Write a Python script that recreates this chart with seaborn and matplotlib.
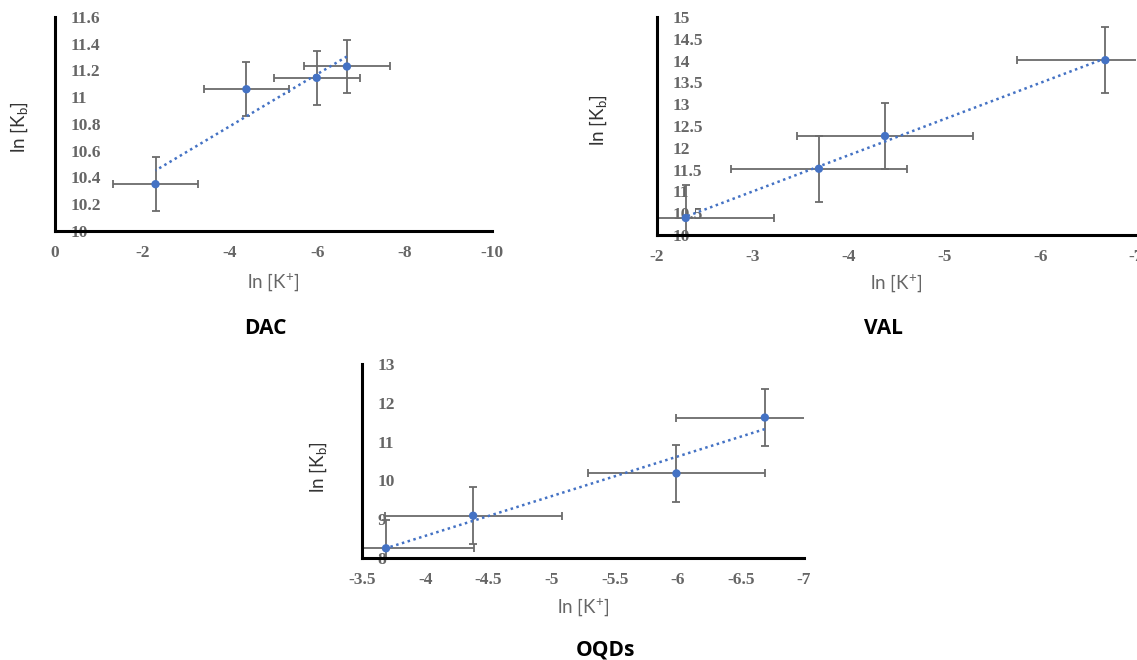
import numpy as np
import pandas as pd
import matplotlib
matplotlib.use("Agg")
import matplotlib.pyplot as plt
import seaborn as sns

# ---------------- data ----------------
dac_x = [-2.30, -4.38, -5.99, -6.68]
dac_y = [10.35, 11.06, 11.145, 11.23]
dac_xerr = [0.98, 0.98, 0.98, 0.98]
dac_yerr = [0.20, 0.20, 0.20, 0.20]

val_x = [-2.30, -3.69, -4.38, -6.68]
val_y = [10.39, 11.52, 12.27, 14.01]
val_xerr = [0.92, 0.92, 0.92, 0.92]
val_yerr = [0.76, 0.76, 0.76, 0.76]

oqd_x = [-3.69, -4.38, -5.99, -6.69]
oqd_y = [8.25, 9.09, 10.18, 11.62]
oqd_xerr = [0.70, 0.70, 0.70, 0.70]
oqd_yerr = [0.73, 0.73, 0.73, 0.73]

dac_xticks = [0, -2, -4, -6, -8, -10]
dac_xticklabels = ["0", "-2", "-4", "-6", "-8", "-10"]
dac_yticks = [10, 10.2, 10.4, 10.6, 10.8, 11, 11.2, 11.4, 11.6]
dac_yticklabels = ["10", "10.2", "10.4", "10.6", "10.8", "11", "11.2", "11.4", "11.6"]

val_xticks = [-2, -3, -4, -5, -6, -7]
val_xticklabels = ["-2", "-3", "-4", "-5", "-6", "-7"]
val_yticks = [10, 10.5, 11, 11.5, 12, 12.5, 13, 13.5, 14, 14.5, 15]
val_yticklabels = ["10", "10.5", "11", "11.5", "12", "12.5", "13", "13.5", "14", "14.5", "15"]

oqd_xticks = [-3.5, -4, -4.5, -5, -5.5, -6, -6.5, -7]
oqd_xticklabels = ["-3.5", "-4", "-4.5", "-5", "-5.5", "-6", "-6.5", "-7"]
oqd_yticks = [8, 9, 10, 11, 12, 13]
oqd_yticklabels = ["8", "9", "10", "11", "12", "13"]

panel_titles = ["DAC", "VAL", "OQDs"]
xlabel_text = "ln [K$^{+}$]"
ylabel_text = "ln [K$_{\\mathrm{b}}$]"

# ---------------- style ----------------
sns.set_theme(style="white")
plt.rcParams["font.family"] = ["Lato", "DejaVu Sans"]
plt.rcParams["mathtext.fontset"] = "custom"
plt.rcParams["mathtext.rm"] = "Lato"
plt.rcParams["mathtext.it"] = "Lato:italic"
plt.rcParams["mathtext.bf"] = "Lato:bold"

BLUE = "#4472C4"
ERR = "#6b6b6b"
TICK = "#666666"

fig = plt.figure(figsize=(11.37, 6.6), dpi=100)

W, H = 1137.0, 660.0


def make_ax(left, right, top, bottom):
    return fig.add_axes([left / W, 1 - bottom / H, (right - left) / W, (bottom - top) / H])


def panel(ax, x, y, xe, ye, xlim, xticks, xtl, ylim, yticks, ytl, xlab_pos, ylab_pos):
    df = pd.DataFrame({"x": x, "y": y})
    ax.errorbar(df["x"], df["y"], xerr=xe, yerr=ye, fmt="none", ecolor=ERR,
                elinewidth=1.3, capsize=2.8, capthick=1.3, zorder=2)
    sns.regplot(data=df, x="x", y="y", ax=ax, scatter=False, ci=None, truncate=True,
                line_kws=dict(color=BLUE, ls=(0, (1, 1.4)), lw=1.8, zorder=3))
    sns.scatterplot(data=df, x="x", y="y", ax=ax, color=BLUE, s=36,
                    edgecolor="none", zorder=4)
    ax.set_xlim(*xlim)
    ax.set_ylim(*ylim)
    ax.set_xticks(xticks)
    ax.set_xticklabels(xtl)
    ax.set_yticks(yticks)
    ax.set_yticklabels(ytl)
    ax.tick_params(axis="both", length=0, labelsize=12.5, colors=TICK)
    ax.tick_params(axis="x", pad=10)
    ax.tick_params(axis="y", pad=-11)
    for lab in ax.get_yticklabels():
        lab.set_horizontalalignment("left")
        lab.set_fontfamily("Liberation Serif")
        lab.set_fontweight("bold")
    for lab in ax.get_xticklabels():
        lab.set_fontfamily("Liberation Serif")
        lab.set_fontweight("bold")
    sns.despine(ax=ax)
    for s in ("left", "bottom"):
        ax.spines[s].set_linewidth(2.2)
        ax.spines[s].set_color("black")
    ax.spines["left"].set_zorder(5)
    ax.spines["bottom"].set_zorder(5)
    ax.set_xlabel(xlabel_text, fontsize=13.5, color="#666666")
    ax.set_ylabel(ylabel_text, fontsize=13.5, color="#333333")
    ax.xaxis.set_label_coords(*xlab_pos)
    ax.xaxis.label.set_va("center")
    ax.yaxis.set_label_coords(*ylab_pos)
    ax.yaxis.label.set_va("center")
    ax.grid(False)


# DAC
ax1 = make_ax(55, 492, 17, 231)
panel(ax1, dac_x, dac_y, dac_xerr, dac_yerr, (0, -10), dac_xticks, dac_xticklabels,
      (10, 11.6), dac_yticks, dac_yticklabels,
      ((273 - 55) / 437, (231 - 282) / 214), ((19 - 55) / 437, (231 - 127) / 214))

# VAL
ax2 = make_ax(657, 1136, 17, 235)
panel(ax2, val_x, val_y, val_xerr, val_yerr, (-2, -7), val_xticks, val_xticklabels,
      (10, 15), val_yticks, val_yticklabels,
      ((896 - 657) / 479, (235 - 283) / 218), ((598 - 657) / 479, (235 - 120) / 218))

# OQDs
ax3 = make_ax(362, 804, 364, 558)
panel(ax3, oqd_x, oqd_y, oqd_xerr, oqd_yerr, (-3.5, -7), oqd_xticks, oqd_xticklabels,
      (8, 13), oqd_yticks, oqd_yticklabels,
      ((583 - 362) / 442, (558 - 607) / 194), ((318 - 362) / 442, (558 - 467) / 194))

title_pos = [(265, 328), (883, 328), (605, 650)]
for t, (px, py) in zip(panel_titles, title_pos):
    fig.text(px / W, 1 - py / H, t, ha="center", va="center", fontsize=15,
             fontweight="bold", color="black", family=["Open Sans", "DejaVu Sans"])

fig.savefig("out.png", dpi=100)
